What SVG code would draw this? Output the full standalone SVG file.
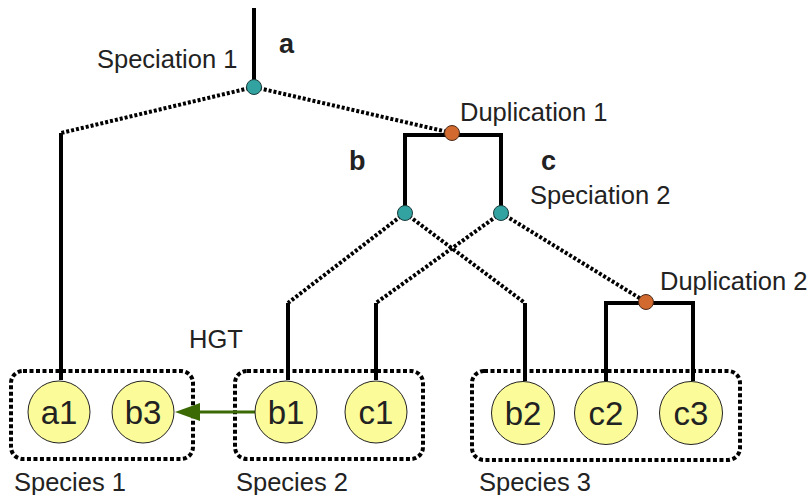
<svg xmlns="http://www.w3.org/2000/svg" width="810" height="495" viewBox="0 0 810 495">
<style>
.solid{stroke:#000;stroke-width:4;fill:none}
.dot{stroke:#000;stroke-width:4;fill:none;stroke-dasharray:3 2}
.box{stroke:#000;stroke-width:4;fill:none;stroke-dasharray:4 2.5}
.leaf{fill:#fbfb9a;stroke:#222;stroke-width:1}
.spec{fill:#33a3a1;stroke:#1a3a3a;stroke-width:1}
.dup{fill:#d2692f;stroke:#4a2a1a;stroke-width:1}
.lbl{font-family:"Liberation Sans",Arial,sans-serif;font-size:25.5px;fill:#222}
.bold{font-family:"Liberation Sans",Arial,sans-serif;font-size:27px;font-weight:bold;fill:#222}
.leaft{font-family:"Liberation Sans",Arial,sans-serif;font-size:33px;fill:#222;text-anchor:middle}
</style>
<g id="species-boxes">
<rect id="species1" class="box" x="11" y="371" width="182" height="88" rx="12"/>
<rect id="species2" class="box" x="235" y="371" width="188" height="88" rx="12"/>
<rect id="species3" class="box" x="472" y="371" width="268" height="89" rx="12"/>
</g>
<g id="connectors">
<path class="solid" d="M254,8 V87"/>
<path class="dot" d="M254,87 L61,133"/>
<path class="solid" d="M61,133 V380"/>
<path class="dot" d="M254,87 L452,133"/>
<path class="solid" d="M405,213 V135 H501 V213"/>
<path class="dot" d="M405,213 L288,303"/>
<path class="dot" d="M405,213 L525,303"/>
<path class="dot" d="M501,213 L376,303"/>
<path class="dot" d="M501,213 L646,302"/>
<path class="solid" d="M288,303 V380"/>
<path class="solid" d="M376,303 V380"/>
<path class="solid" d="M525,303 V381"/>
<path class="solid" d="M606,381 V303 H693 V381"/>
<g id="hgt">
<path d="M255,412 H198" stroke="#3b6a05" stroke-width="3" fill="none"/>
<polygon points="175,412 200,403 200,421" fill="#3b6a05"/>
</g>
</g>
<g id="leaf-a1"><circle class="leaf" cx="59" cy="412" r="31"/><text class="leaft" x="59" y="424">a1</text></g>
<g id="leaf-b3"><circle class="leaf" cx="143" cy="412" r="31"/><text class="leaft" x="143" y="424">b3</text></g>
<g id="leaf-b1"><circle class="leaf" cx="286" cy="412" r="31"/><text class="leaft" x="286" y="424">b1</text></g>
<g id="leaf-c1"><circle class="leaf" cx="376" cy="412" r="31"/><text class="leaft" x="376" y="424">c1</text></g>
<g id="leaf-b2"><circle class="leaf" cx="523" cy="413" r="31.5"/><text class="leaft" x="523" y="425">b2</text></g>
<g id="leaf-c2"><circle class="leaf" cx="606" cy="413" r="31.5"/><text class="leaft" x="606" y="425">c2</text></g>
<g id="leaf-c3"><circle class="leaf" cx="691" cy="413" r="31.5"/><text class="leaft" x="691" y="425">c3</text></g>
<g id="speciation1"><circle class="spec" cx="254" cy="87" r="7.5"/><text class="lbl" x="97" y="68">Speciation 1</text></g>
<g id="duplication1"><circle class="dup" cx="452" cy="133" r="7.5"/><text class="lbl" x="460" y="121">Duplication 1</text></g>
<g id="speciation2a"><circle class="spec" cx="405" cy="213" r="7.5"/></g>
<g id="speciation2b"><circle class="spec" cx="501" cy="213" r="7.5"/><text class="lbl" x="530" y="204">Speciation 2</text></g>
<g id="duplication2"><circle class="dup" cx="646" cy="302" r="7.5"/><text class="lbl" x="660" y="290">Duplication 2</text></g>
<g id="labels">
<text class="bold" x="279" y="53">a</text>
<text class="bold" x="349" y="170">b</text>
<text class="bold" x="541" y="170">c</text>
<text class="lbl" x="189" y="348">HGT</text>
<text class="lbl" x="14" y="491">Species 1</text>
<text class="lbl" x="236" y="491">Species 2</text>
<text class="lbl" x="479" y="491">Species 3</text>
</g>
</svg>
